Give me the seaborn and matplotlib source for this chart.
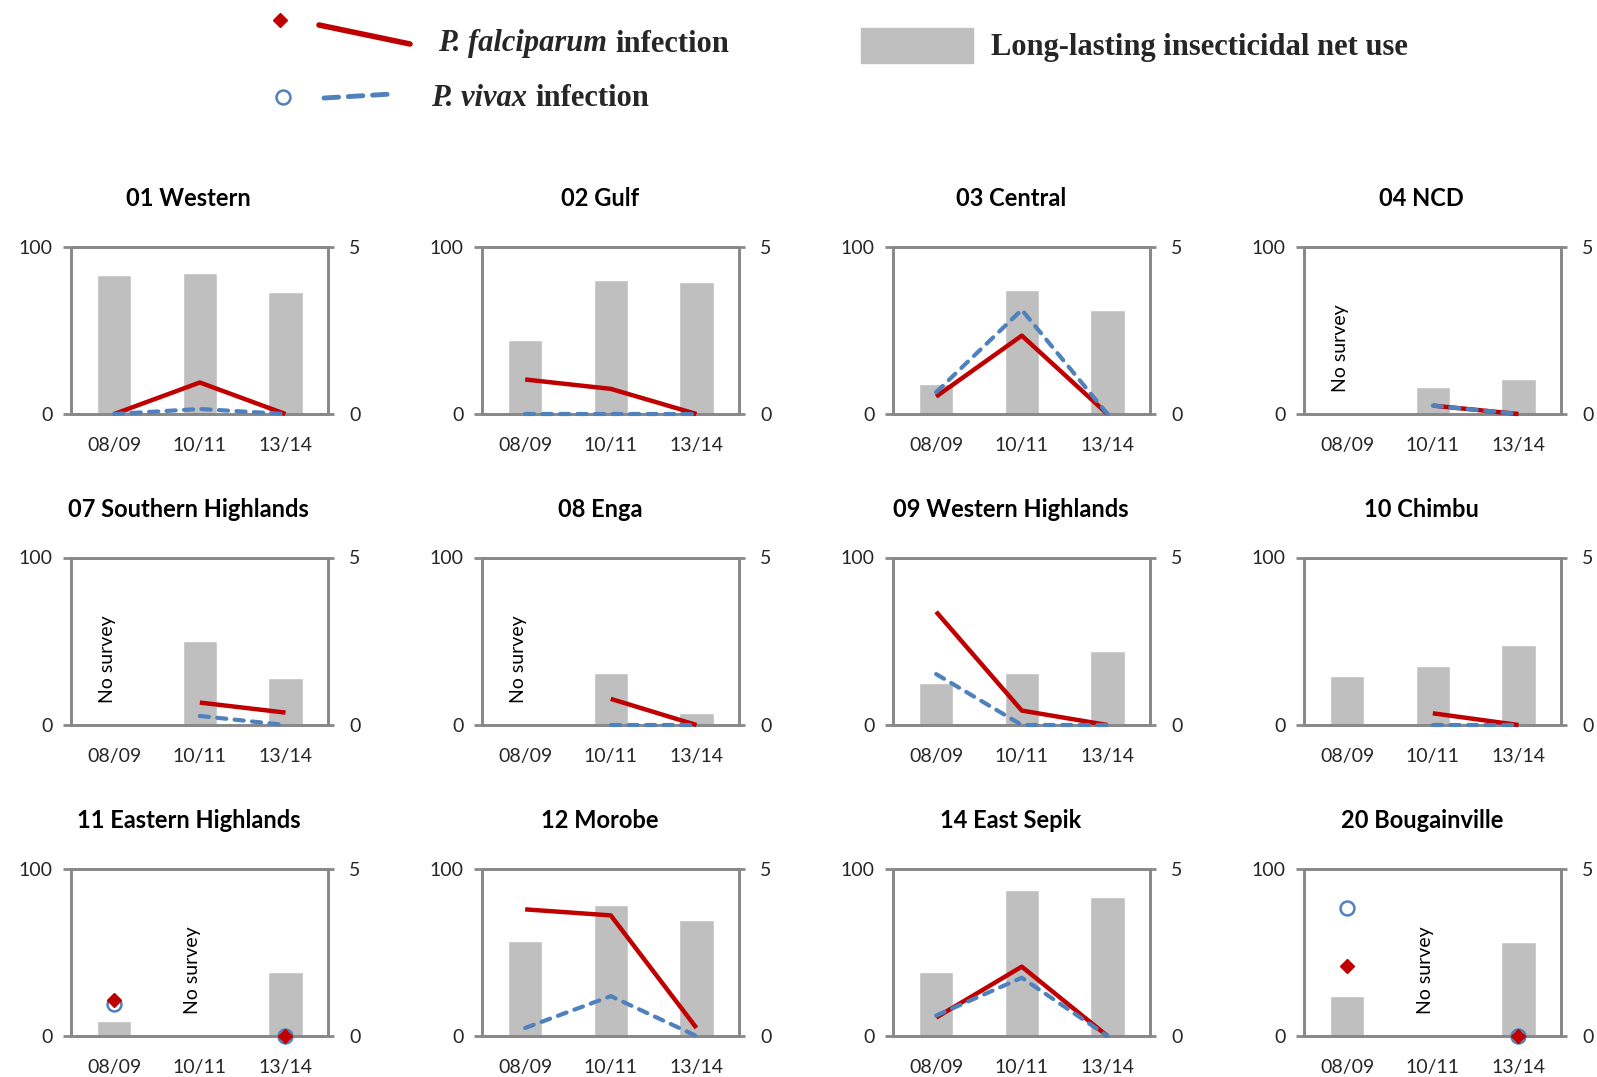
import matplotlib
matplotlib.use('Agg')
import matplotlib.pyplot as plt
from matplotlib.lines import Line2D
from matplotlib.patches import Rectangle
import numpy as np
import seaborn as sns

nan = np.nan

# Data
periods = ['08/09', '10/11', '13/14']
provinces = ['01 Western', '02 Gulf', '03 Central', '04 NCD',
             '07 Southern Highlands', '08 Enga', '09 Western Highlands', '10 Chimbu',
             '11 Eastern Highlands', '12 Morobe', '14 East Sepik', '20 Bougainville']

# long-lasting insecticidal net use (%), left axis
llin_use = [[83, 84, 73], [44, 80, 79], [18, 74, 62], [nan, 16, 21],
            [nan, 50, 28], [nan, 31, 7], [25, 31, 44], [29, 35, 48],
            [9, nan, 38], [57, 78, 69], [38, 87, 83], [24, nan, 56]]

# P. falciparum infection (%), right axis
pf_infection = [[0, 0.94, 0], [1.03, 0.75, 0], [0.52, 2.34, 0], [nan, 0.25, 0],
                [nan, 0.67, 0.37], [nan, 0.78, 0], [3.38, 0.43, 0], [nan, 0.35, 0],
                [1.06, nan, 0], [3.78, 3.6, 0.24], [0.55, 2.07, 0], [2.1, nan, 0]]

# P. vivax infection (%), right axis
pv_infection = [[0, 0.15, 0], [0, 0, 0], [0.65, 3.11, 0], [nan, 0.25, 0],
                [nan, 0.27, 0], [nan, 0, 0], [1.52, 0, 0], [nan, 0, 0],
                [0.95, nan, 0], [0.24, 1.19, 0], [0.61, 1.74, 0], [3.83, nan, 0]]

# index of the period that had no survey (None = all surveyed)
no_survey = [None, None, None, 0, 0, 0, None, None, 1, None, None, 1]

RED = '#C00000'
BLUE = '#4F81BD'
BAR = '#BFBFBF'
SPINE = '#898989'

sns.set_style('white')
plt.rcParams['font.family'] = ['Lato', 'DejaVu Sans']

W, H = 1597, 1077
fig = plt.figure(figsize=(W / 100, H / 100), dpi=100)


def isolated(vals):
    # points with no neighbour to connect to get a marker
    out = []
    for k, v in enumerate(vals):
        left = np.isnan(vals[k - 1]) if k > 0 else True
        right = np.isnan(vals[k + 1]) if k < len(vals) - 1 else True
        out.append(not np.isnan(v) and left and right)
    return np.array(out)


ax_w, ax_h = 257 / W, 167.5 / H
for i, name in enumerate(provinces):
    r, c = divmod(i, 4)
    x0 = (71.3 + c * 411) / W
    y_top = 246.5 + r * 311
    y0 = 1 - (y_top + 167.5) / H
    ax = fig.add_axes([x0, y0, ax_w, ax_h])

    sns.barplot(x=periods, y=llin_use[i], order=periods, color=BAR, width=0.4,
                saturation=1, errorbar=None, ax=ax)
    ax.set_xlim(-0.5, 2.5)
    ax.set_ylim(0, 100)
    ax.set_yticks([0, 100])
    ax.set_xticks(range(len(periods)), periods)
    ax.set_xticks([-0.5, 0.5, 1.5, 2.5], minor=True)
    ax.set_xlabel('')
    ax.set_ylabel('')
    ax.tick_params(axis='x', which='major', length=0, pad=16.5, labelsize=14, labelcolor='#262626')
    ax.tick_params(axis='x', which='minor', length=5, width=2, color=SPINE, direction='out')
    ax.tick_params(axis='y', length=5.5, width=2, color=SPINE, direction='out', left=True,
                   pad=8, labelsize=14, labelcolor='#262626')
    for sp in ax.spines.values():
        sp.set_color(SPINE)
        sp.set_linewidth(2)
        sp.set_visible(True)

    ax2 = ax.twinx()
    ax2.set_ylim(0, 5)
    ax2.set_yticks([0, 5])
    ax2.tick_params(axis='y', length=4, width=2, color=SPINE, direction='out', right=True,
                    pad=11, labelsize=14, labelcolor='#262626')
    for sp in ax2.spines.values():
        sp.set_color(SPINE)
        sp.set_linewidth(2)

    xs = np.arange(len(periods))
    pf = np.array(pf_infection[i], dtype=float)
    pv = np.array(pv_infection[i], dtype=float)
    ax2.plot(xs, pf, color=RED, lw=3.2, solid_capstyle='butt', clip_on=False, zorder=3)
    ax2.plot(xs, pv, color=BLUE, lw=3, ls=(0, (2.2, 2)), dash_capstyle='round',
             clip_on=False, zorder=4)
    iv = isolated(pv)
    ax2.plot(xs[iv], pv[iv], ls='none', marker='o', ms=10, mfc='white', mec=BLUE, mew=1.8,
             clip_on=False, zorder=5)
    ip = isolated(pf)
    ax2.plot(xs[ip], pf[ip], ls='none', marker='D', ms=7, color=RED, clip_on=False, zorder=6)

    if no_survey[i] is not None:
        ax.text(no_survey[i] - 0.08, 39, 'No survey', rotation=90, ha='center', va='center',
                fontsize=14, color='black')

    fig.text(x0 + ax_w / 2 - 11 / W, 1 - (y_top - 48) / H, name, ha='center', va='center',
             fontsize=17, fontweight='bold', color='black')

# hand-drawn legend at the top
tf = fig.transFigure
fig.add_artist(Line2D([280 / W], [1 - 20 / H], marker='D', ms=7, color=RED, transform=tf))
fig.add_artist(Line2D([319 / W, 410 / W], [1 - 25 / H, 1 - 44 / H], color=RED, lw=4, transform=tf))
fig.add_artist(Line2D([283 / W], [1 - 97 / H], marker='o', ms=10, mfc='white', mec=BLUE,
                      mew=1.8, transform=tf))
fig.add_artist(Line2D([324 / W, 392 / W], [1 - 98 / H, 1 - 94 / H], color=BLUE, lw=3.5,
                      ls=(0, (3, 2)), dash_capstyle='round', transform=tf))
fig.add_artist(Rectangle((861 / W, 1 - 63 / H), 112 / W, 35.5 / H, color=BAR, transform=tf))

serif = ['Liberation Serif', 'DejaVu Serif']
renderer = fig.canvas.get_renderer()


def legend_label(x, y, species):
    t = fig.text(x / W, 1 - y / H, species, family=serif, fontsize=22, fontweight='bold',
                 fontstyle='italic', va='center', ha='left')
    bb = t.get_window_extent(renderer)
    fig.text((bb.x1 + 8) / W, 1 - y / H, 'infection', family=serif, fontsize=22,
             fontweight='bold', va='center', ha='left')


legend_label(438, 44, 'P. falciparum')
legend_label(431, 99, 'P. vivax')
fig.text(991 / W, 1 - 47 / H, 'Long-lasting insecticidal net use', family=serif, fontsize=22,
         fontweight='bold', va='center', ha='left')

fig.savefig('out.png', dpi=100)
